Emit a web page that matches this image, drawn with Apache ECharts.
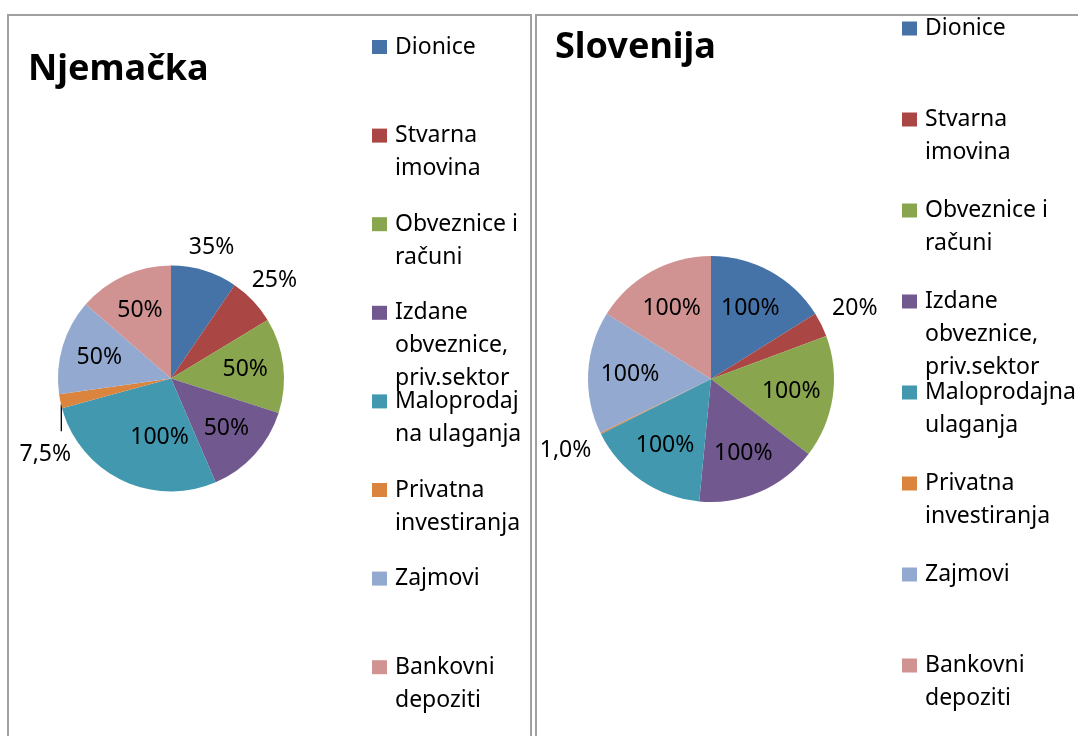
<!DOCTYPE html>
<html>
<head>
<meta charset="utf-8">
<script src="https://cdn.jsdelivr.net/npm/echarts@6/dist/echarts.min.js"></script>
<style>
html,body{margin:0;padding:0;background:#fff;}
#chart{width:1078px;height:736px;}
</style>
</head>
<body>
<div id="chart"></div>
<script>
// ---- data ----
const categories = ['Dionice', 'Stvarna imovina', 'Obveznice i računi', 'Izdane obveznice, priv.sektor',
  'Maloprodajna ulaganja', 'Privatna investiranja', 'Zajmovi', 'Bankovni depoziti'];
const valuesNjemacka = [35, 25, 50, 50, 100, 7.5, 50, 50];
const valuesSlovenija = [100, 20, 100, 100, 100, 1, 100, 100];
const legendTextNjemacka = ['Dionice', 'Stvarna\nimovina', 'Obveznice i\nračuni', 'Izdane\nobveznice,\npriv.sektor',
  'Maloprodaj\nna ulaganja', 'Privatna\ninvestiranja', 'Zajmovi', 'Bankovni\ndepoziti'];
const legendTextSlovenija = ['Dionice', 'Stvarna\nimovina', 'Obveznice i\nračuni', 'Izdane\nobveznice,\npriv.sektor',
  'Maloprodajna\nulaganja', 'Privatna\ninvestiranja', 'Zajmovi', 'Bankovni\ndepoziti'];
const panelTitles = ['Njemačka', 'Slovenija'];

// ---- styles ----
const colors = ['#4572A7', '#AA4643', '#89A54E', '#71588F', '#4198AF', '#DB843D', '#93A9CF', '#D19392'];
const FONT = '"Noto Sans", "Open Sans", sans-serif';
const LH = 33;

function fmtPct(v) {
  return (v < 10 ? v.toFixed(1).replace('.', ',') : String(v)) + '%';
}

const panels = [
  { title: panelTitles[0], values: valuesNjemacka, legend: legendTextNjemacka,
    titleLeft: 28, titleTop: 50, center: [171, 378.5], r: 113,
    legendLeft: 372, legendFirst: 47, legendStep: 88.6,
    nudge: { 4: [21, -8] }, leaderBelow: [5] },
  { title: panelTitles[1], values: valuesSlovenija, legend: legendTextSlovenija,
    titleLeft: 555, titleTop: 28, center: [711, 379], r: 123,
    legendLeft: 902, legendFirst: 28.5, legendStep: 91,
    nudge: {}, leaderBelow: [] }
];

const titles = [];
const legends = [];
const visibleSeries = [];
const labelSeries = [];

panels.forEach(function (pn) {
  titles.push({
    text: pn.title, left: pn.titleLeft, top: pn.titleTop, padding: 0,
    textStyle: { fontFamily: FONT, fontWeight: 'bold', fontSize: 36, lineHeight: 40, color: '#000' }
  });

  categories.forEach(function (name, i) {
    const text = pn.legend[i];
    const n = text.split('\n').length;
    const padded = '\n'.repeat(n - 1) + text;
    const c = pn.legendFirst + i * pn.legendStep;
    legends.push({
      data: [name], left: pn.legendLeft, top: c - (2 * n - 1) * LH / 2,
      orient: 'vertical', padding: 0, itemWidth: 15, itemHeight: 14, icon: 'rect',
      selectedMode: false,
      formatter: function () { return padded; },
      textStyle: { fontFamily: FONT, fontSize: 23, lineHeight: LH, color: '#000', padding: [0, 0, 0, 3] }
    });
  });

  const total = pn.values.reduce(function (a, b) { return a + b; }, 0);
  const isOutside = function (i) { return pn.values[i] / total < 0.12; };

  visibleSeries.push({
    type: 'pie', center: pn.center, radius: [0, pn.r], startAngle: 90, clockwise: true,
    avoidLabelOverlap: false, label: { show: false }, labelLine: { show: false },
    itemStyle: { borderWidth: 0 }, emphasis: { disabled: true },
    data: categories.map(function (name, i) { return { name: name, value: pn.values[i] }; })
  });

  labelSeries.push({
    type: 'pie', center: pn.center, radius: [0.27 * pn.r, pn.r], startAngle: 90, clockwise: true,
    silent: true, avoidLabelOverlap: false, emphasis: { disabled: true },
    itemStyle: { color: 'rgba(0,0,0,0)', borderWidth: 0 },
    label: {
      show: true, formatter: function (p) { return fmtPct(p.value); },
      fontFamily: FONT, fontSize: 23, lineHeight: 24, color: '#000', textBorderWidth: 0
    },
    labelLine: { length: 10, length2: 0, lineStyle: { color: '#000', width: 1.3 } },
    data: categories.map(function (name, i) {
      const out = isOutside(i);
      return { name: name, value: pn.values[i],
        label: { position: out ? 'outside' : 'inside' },
        labelLine: { show: out } };
    }),
    labelLayout: function (p) {
      const i = p.dataIndex;
      if (!isOutside(i)) {
        const nd = pn.nudge[i];
        return nd ? { dx: nd[0], dy: nd[1] } : {};
      }
      const pts = p.labelLinePoints;
      if (!pts) return {};
      const e = pts[0], q = pts[1];
      let ux = q[0] - e[0], uy = q[1] - e[1];
      const len = Math.hypot(ux, uy) || 1;
      ux /= len; uy /= len;
      if (pn.leaderBelow.indexOf(i) >= 0) {
        return {
          x: e[0] - 15, y: e[1] + 53, align: 'center', verticalAlign: 'middle',
          labelLinePoints: [[e[0] + 1, e[1] + 3], [e[0] + 1, e[1] + 30], [e[0] + 1, e[1] + 30]]
        };
      }
      const hw = p.labelRect.width / 2, hh = p.labelRect.height / 2;
      const ext = Math.min(Math.abs(ux) > 1e-6 ? hw / Math.abs(ux) : Infinity,
                           Math.abs(uy) > 1e-6 ? hh / Math.abs(uy) : Infinity);
      const d = 12 + ext;
      const x = e[0] + ux * d, y = e[1] + uy * d;
      return { x: x, y: y, align: 'center', verticalAlign: 'middle',
        labelLinePoints: [[x, y], [x, y], [x, y]] };
    }
  });
});

const chart = echarts.init(document.getElementById('chart'), null, { renderer: 'canvas' });
chart.setOption({
  backgroundColor: '#ffffff',
  animation: false,
  color: colors,
  title: titles,
  legend: legends,
  graphic: [
    { type: 'rect', silent: true, z: -10, shape: { x: 8, y: 15, width: 523, height: 1000 },
      style: { fill: 'none', stroke: '#a0a0a0', lineWidth: 2 } },
    { type: 'rect', silent: true, z: -10, shape: { x: 536, y: 15, width: 1000, height: 1000 },
      style: { fill: 'none', stroke: '#a0a0a0', lineWidth: 2 } }
  ],
  series: visibleSeries.concat(labelSeries)
});
</script>
</body>
</html>
